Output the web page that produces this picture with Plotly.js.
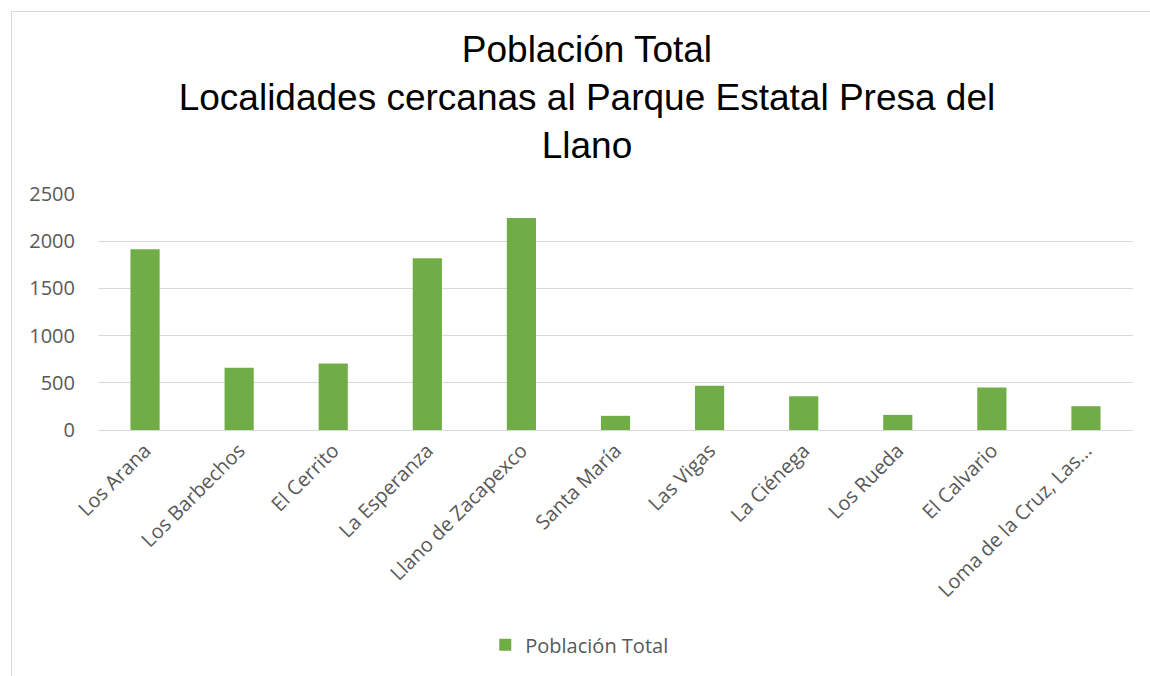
<!DOCTYPE html>
<html>
<head>
<meta charset="utf-8">
<script src="https://cdn.plot.ly/plotly-3.0.1.min.js"></script>
<style>
html,body{margin:0;padding:0;background:#fff;overflow:hidden;}
#frame{position:absolute;left:11px;top:11px;width:1150px;height:690px;border:1px solid #d9d9d9;box-sizing:border-box;}
#chart{position:absolute;left:0;top:0;width:1150px;height:676px;}
</style>
</head>
<body>
<div id="frame"></div>
<div id="chart"></div>
<script>
const categories = ["Los Arana","Los Barbechos","El Cerrito","La Esperanza","Llano de Zacapexco","Santa María","Las Vigas","La Ciénega","Los Rueda","El Calvario","Loma de la Cruz, Las..."];
const poblacion = [1915, 660, 705, 1820, 2245, 150, 470, 358, 160, 450, 252];
const seriesName = "Población Total";
const yTicks = [0, 500, 1000, 1500, 2000, 2500];

const trace = {
  type: "bar",
  x: categories,
  y: poblacion,
  name: seriesName,
  marker: {color: "#70ad47"},
  showlegend: true,
  hoverinfo: "x+y"
};

const layout = {
  width: 1150,
  height: 676,
  paper_bgcolor: "rgba(0,0,0,0)",
  plot_bgcolor: "rgba(0,0,0,0)",
  margin: {l: 98, r: 17, t: 194, b: 246},
  bargap: 0.69,
  font: {family: "Open Sans, sans-serif", color: "#595959", size: 20},
  title: {
    text: "Población Total<br>Localidades cercanas al Parque Estatal Presa del<br>Llano",
    font: {family: "Liberation Sans, Arial, sans-serif", size: 37, color: "#000000"},
    x: 0.5104, xanchor: "center", xref: "container",
    y: 0.908, yanchor: "top", yref: "container"
  },
  xaxis: {
    type: "category",
    tickangle: -45,
    showgrid: false,
    showline: true,
    linecolor: "#d9d9d9",
    linewidth: 1,
    ticks: "",
    tickfont: {size: 20, color: "#595959", family: "Open Sans, sans-serif"},
    automargin: false
  },
  yaxis: {
    range: [0, 2500],
    tickvals: yTicks,
    ticktext: yTicks.map(String),
    showgrid: true,
    gridcolor: "#d9d9d9",
    gridwidth: 1,
    zeroline: false,
    showline: false,
    ticks: "",
    ticklabelstandoff: 22,
    tickfont: {size: 20, color: "#595959", family: "Open Sans, sans-serif"},
    automargin: false
  },
  legend: {
    orientation: "h",
    x: 0.465, xanchor: "center",
    y: -0.91, yanchor: "middle",
    font: {size: 20, color: "#595959"},
    itemwidth: 30
  }
};

Plotly.newPlot("chart", [trace], layout, {displayModeBar: false, staticPlot: true});
</script>
</body>
</html>
